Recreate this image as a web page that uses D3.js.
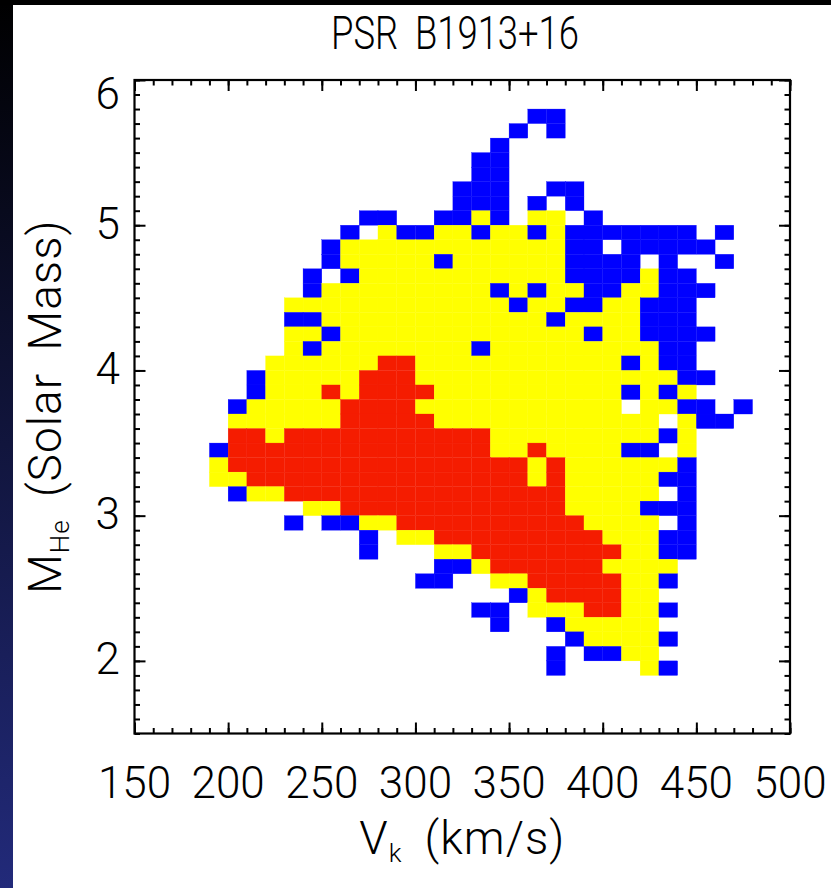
<!DOCTYPE html>
<html>
<head>
<meta charset="utf-8">
<script src="https://cdn.jsdelivr.net/npm/d3@7"></script>
<style>
  body { margin: 0; background: #fff; }
  text { font-family: Roboto, "Liberation Sans", sans-serif; font-weight: 300; fill: #000; }
</style>
</head>
<body>
<div id="container"></div>
<script>
/* DATA */
// kick velocity bins (lower edge, km/s), one per column
const vkBins = [190, 200, 210, 220, 230, 240, 250, 260, 270, 280, 290, 300, 310, 320, 330,
  340, 350, 360, 370, 380, 390, 400, 410, 420, 430, 440, 450, 460, 470];
// helium star mass bins (lower edge, solar mass), one per row, top to bottom
const massBins = [5.7, 5.6, 5.5, 5.4, 5.3, 5.2, 5.1, 5.0, 4.9, 4.8, 4.7, 4.6, 4.5, 4.4, 4.3,
  4.2, 4.1, 4.0, 3.9, 3.8, 3.7, 3.6, 3.5, 3.4, 3.3, 3.2, 3.1, 3.0, 2.9, 2.8, 2.7, 2.6, 2.5,
  2.4, 2.3, 2.2, 2.1, 2.0, 1.9];
// probability level of each cell: b = low, y = mid, r = high, . = empty
const cellRows = [
  ".................bb..........",
  "................b.b..........",
  "...............b.............",
  "..............bb.............",
  "..............bb.............",
  ".............bbb..bb.........",
  ".............bbb.b.b.........",
  "........bb..bbyb.yy.b........",
  ".......b.ybbyybyybybbbbbbb.b.",
  "......byyyyyyyyyyyybb.bbbbb..",
  "......byyyyybyyyyyybbbb.b..b.",
  ".....b.byyyyyyyyyyybbbbybb...",
  ".....byyyyyyyyybybyybbyybbb..",
  "....yyyyyyyyyyyybyybbyybbb...",
  "....bbyyyyyyyyyyyybyyyybbb...",
  "....yybyyyyyyyyyyyyybyybbbb..",
  "....ybyyyyyyyybyyyyyyyyybb...",
  "...yyyyyyrryyyyyyyyyyybybb...",
  "..byyyyyrrryyyyyyyyyyyyyybb..",
  "..byyyryrrrryyyyyyyyyybyby...",
  ".byyyyyrrrryyyyyyyyyyy.yybb.b",
  ".yyyyyyrrrrryyyyyyyyyyyy.ybb.",
  ".rryrrrrrrrrrrryyyyyyyyyby...",
  "brrrrrrrrrrrrrryyryyyybb.y...",
  "yrrrrrrrrrrrrrrrryryyyyyyb...",
  "yyrrrrrrrrrrrrrrryryyyyybb...",
  ".byyrrrrrrrrrrrrrrryyyyy.b...",
  ".....yyrrrrrrrrrrrryyyybbb...",
  "....b.bbyyrrrrrrrrrryyyy.b...",
  "........b.yyrrrrrrrrryyybb...",
  "........b...yyrrrrrrrryybb...",
  "............bbyrrrrrryyyy....",
  "...........bb..yyrrrrryyb....",
  "................byrrrryy.....",
  "..............bb.yyyrryyb....",
  "...............b..byyyyy.....",
  "...................byyyyb....",
  "..................b.bbyy.....",
  "..................b....yb...."
];
const levelColors = { b: "#0000ff", y: "#ffff00", r: "#f51c00" };
const binWidth = 10, binHeight = 0.1;

const xTickValues = [150, 200, 250, 300, 350, 400, 450, 500];
const yTickValues = [2, 3, 4, 5, 6];
const titleText = "PSR B1913+16";

/* CONSTANTS AND GLOBALS */
const width = 831, height = 888;
const plot = { left: 134.5, right: 790, top: 80, bottom: 733.5 };

/* SCALES */
const xScale = d3.scaleLinear().domain([150, 500]).range([plot.left, plot.right]);
const yScale = d3.scaleLinear().domain([1.5, 6]).range([plot.bottom, plot.top]);

/* HTML ELEMENTS */
const svg = d3.select("#container")
  .append("svg")
  .attr("width", width)
  .attr("height", height);

// slide edge on the left and top
const defs = svg.append("defs");
const grad = defs.append("linearGradient").attr("id", "edge").attr("x1", 0).attr("x2", 0).attr("y1", 0).attr("y2", 1);
grad.append("stop").attr("offset", "0%").attr("stop-color", "#000000");
grad.append("stop").attr("offset", "100%").attr("stop-color", "#222a7a");
svg.append("rect").attr("x", 0).attr("y", 0).attr("width", width).attr("height", height).attr("fill", "#fff");
svg.append("rect").attr("x", 0).attr("y", 0).attr("width", 13).attr("height", height).attr("fill", "url(#edge)");
svg.append("rect").attr("x", 0).attr("y", 0).attr("width", width).attr("height", 5).attr("fill", "#000");

// cells
const cells = [];
cellRows.forEach((row, i) => {
  row.split("").forEach((code, j) => {
    if (code !== ".") cells.push({ vk: vkBins[j], mass: massBins[i], level: code });
  });
});

svg.append("g")
  .selectAll("rect.cell")
  .data(cells)
  .join("rect")
  .attr("class", "cell")
  .attr("x", d => xScale(d.vk))
  .attr("y", d => yScale(d.mass + binHeight))
  .attr("width", d => xScale(d.vk + binWidth) - xScale(d.vk))
  .attr("height", d => yScale(d.mass) - yScale(d.mass + binHeight))
  .attr("fill", d => levelColors[d.level])
  .attr("stroke", d => levelColors[d.level])
  .attr("stroke-width", 0.3);

// axes: major + minor ticks pointing inward on all four sides
const xMinor = d3.range(150, 501, 10);
const yMinor = d3.range(15, 61).map(d => d / 10);

function styleAxis(g) {
  g.select(".domain").remove();
  g.selectAll("line").attr("stroke", "#000").attr("stroke-width", 2);
  g.selectAll("text").remove();
}

svg.append("g").attr("transform", `translate(0,${plot.bottom})`)
  .call(d3.axisBottom(xScale).tickValues(xMinor).tickSize(-5.5)).call(styleAxis);
svg.append("g").attr("transform", `translate(0,${plot.bottom})`)
  .call(d3.axisBottom(xScale).tickValues(xTickValues).tickSize(-11)).call(styleAxis);
svg.append("g").attr("transform", `translate(0,${plot.top})`)
  .call(d3.axisTop(xScale).tickValues(xMinor).tickSize(-5.5)).call(styleAxis);
svg.append("g").attr("transform", `translate(0,${plot.top})`)
  .call(d3.axisTop(xScale).tickValues(xTickValues).tickSize(-11)).call(styleAxis);
svg.append("g").attr("transform", `translate(${plot.left},0)`)
  .call(d3.axisLeft(yScale).tickValues(yMinor).tickSize(-5.5)).call(styleAxis);
svg.append("g").attr("transform", `translate(${plot.left},0)`)
  .call(d3.axisLeft(yScale).tickValues(yTickValues).tickSize(-11)).call(styleAxis);
svg.append("g").attr("transform", `translate(${plot.right},0)`)
  .call(d3.axisRight(yScale).tickValues(yMinor).tickSize(-5.5)).call(styleAxis);
svg.append("g").attr("transform", `translate(${plot.right},0)`)
  .call(d3.axisRight(yScale).tickValues(yTickValues).tickSize(-11)).call(styleAxis);

// frame
svg.append("rect")
  .attr("x", plot.left).attr("y", plot.top)
  .attr("width", plot.right - plot.left).attr("height", plot.bottom - plot.top)
  .attr("fill", "none").attr("stroke", "#000").attr("stroke-width", 2.2);

// tick labels
svg.append("g").selectAll("text")
  .data(xTickValues)
  .join("text")
  .attr("x", d => xScale(d))
  .attr("y", 798)
  .attr("text-anchor", "middle")
  .attr("font-size", 44)
  .text(d => d);

svg.append("g").selectAll("text")
  .data(yTickValues)
  .join("text")
  .attr("x", 120)
  .attr("y", d => Math.max(yScale(d) - 2, plot.top + 13) + 15.5)
  .attr("text-anchor", "end")
  .attr("font-size", 44)
  .text(d => d);

// titles
svg.append("text")
  .attr("x", 455)
  .attr("y", 49)
  .attr("text-anchor", "middle")
  .attr("font-size", 46)
  .attr("word-spacing", 10)
  .attr("textLength", 248)
  .attr("lengthAdjust", "spacingAndGlyphs")
  .text(titleText);

const xLabel = svg.append("text")
  .attr("x", (plot.left + plot.right) / 2)
  .attr("y", 854)
  .attr("text-anchor", "middle")
  .attr("font-size", 46)
  .attr("letter-spacing", 1)
  .attr("word-spacing", 10);
xLabel.append("tspan").text("V");
xLabel.append("tspan").attr("font-size", 26).attr("dy", 8).text("k");
xLabel.append("tspan").attr("dy", -8).text(" (km/s)");

const yLabel = svg.append("text")
  .attr("transform", `translate(61,${(plot.top + plot.bottom) / 2}) rotate(-90)`)
  .attr("text-anchor", "middle")
  .attr("font-size", 46)
  .attr("letter-spacing", 1)
  .attr("word-spacing", 10);
yLabel.append("tspan").text("M");
yLabel.append("tspan").attr("font-size", 26).attr("dy", 8).text("He");
yLabel.append("tspan").attr("dy", -8).text(" (Solar Mass)");
</script>
</body>
</html>
